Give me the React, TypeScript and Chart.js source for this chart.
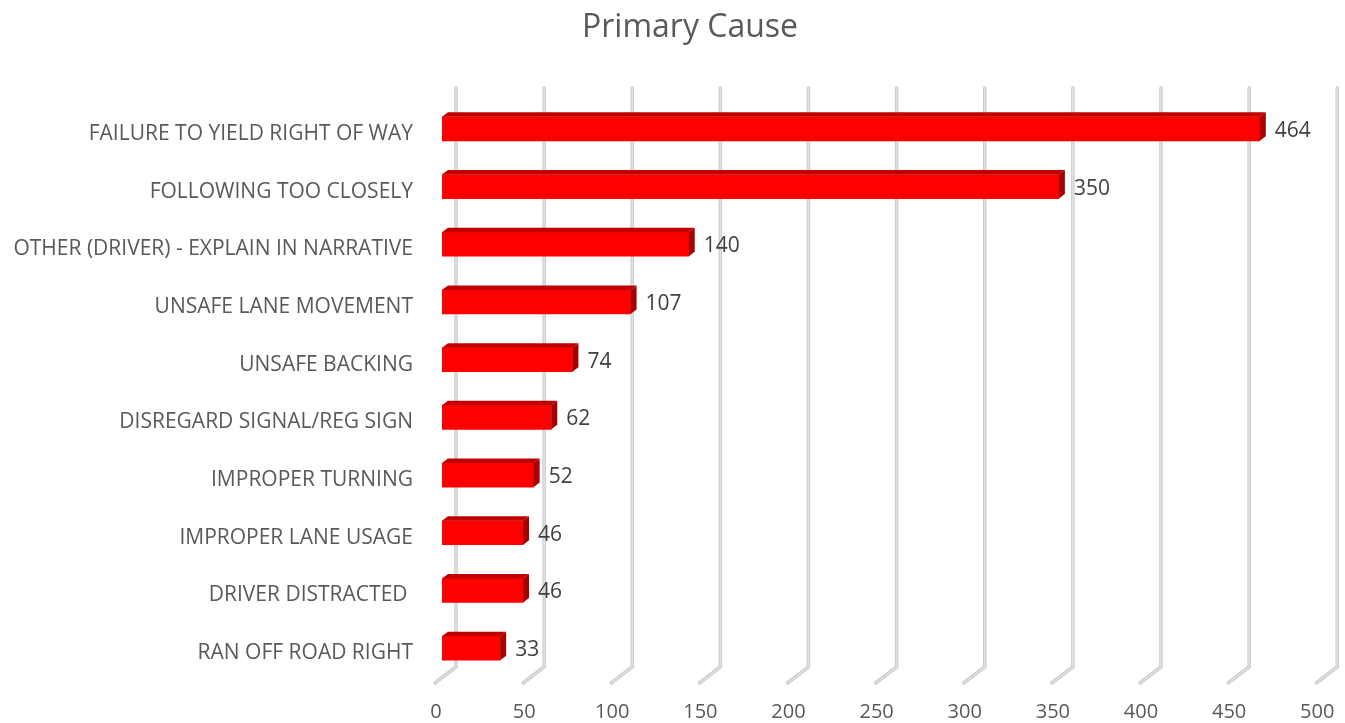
import React, { useEffect, useRef } from "react";
import { Chart, registerables } from "chart.js";

Chart.register(...registerables);

const categories = [
  "FAILURE TO YIELD RIGHT OF WAY",
  "FOLLOWING TOO CLOSELY",
  "OTHER (DRIVER) - EXPLAIN IN NARRATIVE",
  "UNSAFE LANE MOVEMENT",
  "UNSAFE BACKING",
  "DISREGARD SIGNAL/REG SIGN",
  "IMPROPER TURNING",
  "IMPROPER LANE USAGE",
  "DRIVER DISTRACTED ",
  "RAN OFF ROAD RIGHT",
];
const values = [464, 350, 140, 107, 74, 62, 52, 46, 46, 33];
const axisMin = 0;
const axisMax = 500;
const axisStep = 50;
const chartTitle = "Primary Cause";

const FONT = "'Open Sans', 'DejaVu Sans', sans-serif";
const DX = 6;
const DY = 4.5;

const threeD = {
  id: "threeD",
  beforeDatasetsDraw(chart: any) {
    const { ctx, scales, chartArea } = chart;
    const xs = scales.x;
    const topY = 88;
    const botY = chartArea.bottom - 10;
    ctx.save();
    xs.ticks.forEach((t: any) => {
      const px = xs.getPixelForValue(t.value);
      const gx = px + 14;
      const path = () => {
        ctx.beginPath();
        ctx.moveTo(gx, topY);
        ctx.lineTo(gx, botY);
        ctx.lineTo(gx - 21, botY + 16);
      };
      ctx.lineCap = "round";
      ctx.lineJoin = "miter";
      ctx.lineWidth = 3.5;
      ctx.strokeStyle = "#CACACA";
      path();
      ctx.stroke();
      ctx.lineWidth = 1.5;
      ctx.strokeStyle = "#E2E2E2";
      path();
      ctx.stroke();
    });
    ctx.restore();
  },
  afterDatasetsDraw(chart: any) {
    const { ctx } = chart;
    const meta = chart.getDatasetMeta(0);
    ctx.save();
    meta.data.forEach((bar: any, i: number) => {
      const p = bar.getProps(["x", "y", "base", "height"], true);
      const x0 = p.base;
      const x1 = p.x;
      const yT = p.y - p.height / 2;
      const yB = p.y + p.height / 2;
      ctx.fillStyle = "#C00000";
      ctx.beginPath();
      ctx.moveTo(x0, yT);
      ctx.lineTo(x0 + DX, yT - DY);
      ctx.lineTo(x1 + DX, yT - DY);
      ctx.lineTo(x1, yT);
      ctx.closePath();
      ctx.fill();
      ctx.fillStyle = "#A80000";
      ctx.beginPath();
      ctx.moveTo(x1, yT);
      ctx.lineTo(x1 + DX, yT - DY);
      ctx.lineTo(x1 + DX, yB - DY);
      ctx.lineTo(x1, yB);
      ctx.closePath();
      ctx.fill();
      ctx.fillStyle = "#404040";
      ctx.font = `21px ${FONT}`;
      ctx.textAlign = "left";
      ctx.textBaseline = "middle";
      ctx.fillText(String(values[i]), x1 + 15, p.y + 2);
    });
    ctx.restore();
  },
  afterDraw(chart: any) {
    const { ctx } = chart;
    ctx.save();
    ctx.fillStyle = "#595959";
    ctx.font = `32px ${FONT}`;
    ctx.textAlign = "center";
    ctx.textBaseline = "middle";
    ctx.fillText(chartTitle, 690, 28);
    ctx.restore();
  },
};

export default function App() {
  const ref = useRef<HTMLCanvasElement>(null);
  useEffect(() => {
    if (!ref.current) return;
    const chart = new Chart(ref.current, {
      type: "bar",
      data: {
        labels: categories,
        datasets: [
          {
            data: values,
            backgroundColor: "#FF0000",
            borderWidth: 0,
            barThickness: 24,
          },
        ],
      },
      options: {
        indexAxis: "y",
        animation: false,
        responsive: false,
        devicePixelRatio: 1,
        layout: { padding: { left: 0, right: 21.75, top: 100, bottom: 0 } },
        plugins: {
          legend: { display: false },
          tooltip: { enabled: false },
          title: { display: false },
        },
        scales: {
          x: {
            min: axisMin,
            max: axisMax,
            border: { display: false },
            grid: { display: false, drawTicks: false },
            ticks: {
              stepSize: axisStep,
              color: "#595959",
              font: { family: FONT, size: 20 },
              padding: 23,
              labelOffset: -6,
              maxRotation: 0,
            },
            afterFit(scale: any) {
              scale.height = 46;
              scale.paddingLeft = 0;
              scale.paddingRight = 0;
            },
          },
          y: {
            border: { display: false },
            grid: { display: false, drawTicks: false },
            ticks: {
              color: "#595959",
              font: { family: FONT, size: 21 },
              padding: 29,
              labelOffset: 5,
              autoSkip: false,
            },
            afterFit(scale: any) {
              scale.width = 442;
              scale.paddingTop = 0;
              scale.paddingBottom = 0;
            },
          },
        },
      },
      plugins: [threeD],
    } as any);
    return () => chart.destroy();
  }, []);
  return (
    <div style={{ position: "absolute", left: 0, top: 0, width: 1345, height: 723, background: "#fff" }}>
      <canvas ref={ref} width={1345} height={723} style={{ display: "block" }} />
    </div>
  );
}
